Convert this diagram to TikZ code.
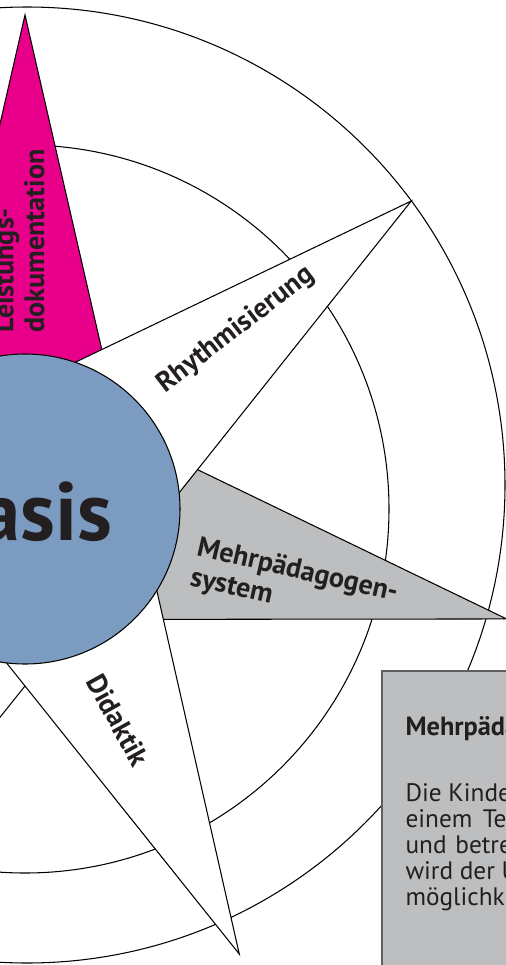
\documentclass[tikz,border=0pt]{standalone}
\usepackage{fontspec}
\setmainfont{PT Sans}
\usepackage{tikz}
\usetikzlibrary{calc}
\definecolor{ldmagenta}{HTML}{E9008A}
\definecolor{mpgray}{HTML}{BCBEC0}
\definecolor{basisblue}{HTML}{7B9BC0}
\definecolor{boxline}{HTML}{5E5F62}
\definecolor{textdark}{HTML}{231F20}

\begin{document}
\begin{tikzpicture}[x=0.02cm, y=0.02cm, line width=0.6pt,
  spike/.style={draw=black, line join=miter},
  spikelabel/.style={font=\bfseries\fontsize{16}{17.5}\selectfont, text=textdark, inner sep=0pt, align=left},
  boxtext/.style={font=\fontsize{14.4}{15}\selectfont, text=textdark, inner sep=0pt, anchor=base west}]
\useasboundingbox (-25,-456) rectangle (481,509);
\clip (-25,-456) rectangle (481,509);

%Rings
\draw (2,24) circle (478);
\draw (0,0) circle (364);

%Spikes
\foreach \a/\c in {-115.71/white, 90/ldmagenta, -12.86/mpgray, 38.57/white, -64.29/white} {
  \coordinate (tip) at (\a:494);
  \coordinate (ivl) at (\a+25.71:177);
  \coordinate (ivr) at (\a-25.71:177);
  \filldraw[spike, fill=\c] (tip) -- ($(tip)!1.35!(ivl)$) -- ($(tip)!1.35!(ivr)$) -- cycle;
}

%Basis
\filldraw[fill=basisblue] (0,0) circle (155);
\node[font=\bfseries\fontsize{47}{50}\selectfont, text=textdark, inner sep=0pt, anchor=base east] (basis) at (88,-31) {Basis};

%Labels
\node[spikelabel, rotate=90, anchor=south west] (ld) at (20,176) {Leistungs-\\dokumentation};
\node[spikelabel, rotate=37.7] (rh) at (211,179) {Rhythmisierung};
\node[spikelabel, rotate=-12.86, anchor=north west] (mp) at (175,-26) {Mehrpädagogen-\\system};
\node[spikelabel, rotate=-61] (di) at (93,-211) {Didaktik};

%Info box
\filldraw[fill=mpgray, draw=boxline, line width=1.1pt] (357,-162) rectangle (520,-480);
\node[boxtext, font=\bfseries\fontsize{15}{16}\selectfont] (infohead) at (380,-226) {Mehrpädagogensystem};
\foreach \t [count=\i from 0] in {Die Kinder, einem\hspace{6pt}Te, und\hspace{5pt}betre, wird der U, möglichk} {
  \node[boxtext] (line\i) at (380,-292-26*\i) {\t};
}
\end{tikzpicture}
\end{document}
